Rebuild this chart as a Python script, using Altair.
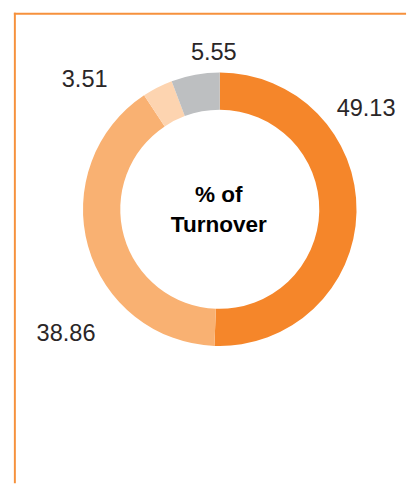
import math
import altair as alt
import pandas as pd

# ---- data ----
categories = ["Segment 1", "Segment 2", "Segment 3", "Segment 4"]
values = [49.13, 38.86, 3.51, 5.55]
labels = ["49.13", "38.86", "3.51", "5.55"]
center_title = ["% of", "Turnover"]

# ---- styles / layout ----
colors = ["#F5862A", "#F9B172", "#FDD4B0", "#BDBFC1"]
frame_color = "#F6913C"
W, H = 409, 480
CX, CY = 216, 200.5
R_IN, R_OUT = 101.5, 139.5
label_angle_offset = [-35.6, -23.4, -19.2, 8.1]   # degrees from slice middle
label_radius = [181, 202, 190.6, 159.6]

df = pd.DataFrame({"category": categories, "value": values, "label": labels,
                   "order": list(range(len(values)))})
total = sum(values)
cum = 0.0
lx, ly = [], []
for v, off, r in zip(values, label_angle_offset, label_radius):
    mid = (cum + v / 2) / total * 360.0
    cum += v
    a = math.radians(mid + off)
    lx.append(CX + r * math.sin(a))
    ly.append(CY - r * math.cos(a))
df["lx"] = lx
df["ly"] = ly

one = pd.DataFrame({"k": [0]})

top_line = alt.Chart(one).mark_rule(color=frame_color, strokeWidth=2).encode(
    x=alt.value(6), x2=alt.value(W - 3), y=alt.value(1))
left_line = alt.Chart(one).mark_rule(color=frame_color, strokeWidth=2).encode(
    x=alt.value(7), y=alt.value(0), y2=alt.value(H))

ring = alt.Chart(df).mark_arc(innerRadius=R_IN, outerRadius=R_OUT).encode(
    theta=alt.Theta("value:Q", stack=True),
    color=alt.Color("category:N", scale=alt.Scale(domain=categories, range=colors), legend=None),
    order=alt.Order("order:Q"),
    x=alt.value(CX), y=alt.value(CY),
)

value_labels = alt.Chart(df).mark_text(
    font="Liberation Sans", fontSize=24, color="#2A2627", align="center", baseline="middle"
).encode(
    x=alt.X("lx:Q", scale=None),
    y=alt.Y("ly:Q", scale=None),
    text="label:N",
)

center = alt.Chart(one).mark_text(
    font="Liberation Sans", fontSize=23, fontWeight="bold", color="#000000",
    align="center", baseline="middle", lineHeight=31,
).encode(x=alt.value(CX - 1), y=alt.value(186), text=alt.value(center_title))

chart = alt.layer(top_line, left_line, ring, value_labels, center).properties(
    width=W, height=H, padding=0, autosize=alt.AutoSizeParams(type="none"),
).configure_view(stroke=None)

chart.save("out.html", embed_options={"renderer": "svg", "actions": False})
